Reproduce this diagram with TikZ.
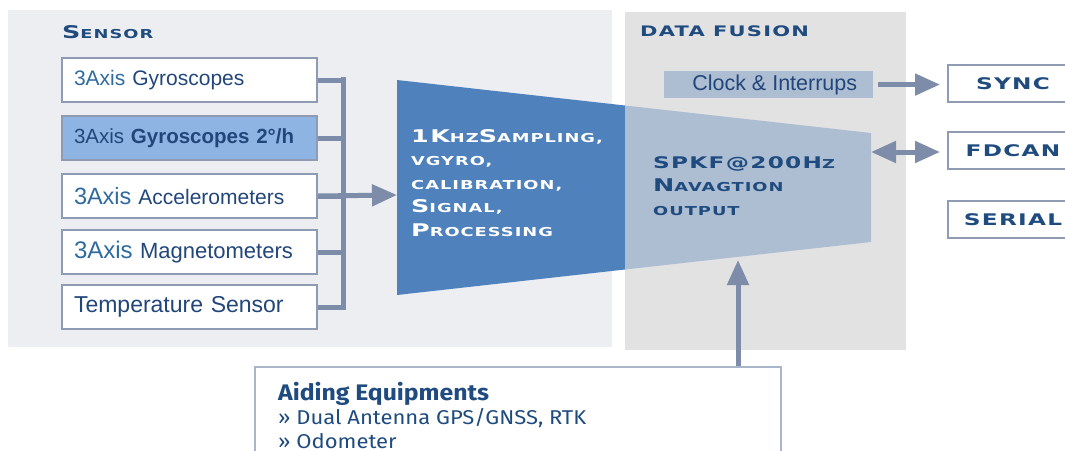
\documentclass[tikz,border=0pt]{standalone}
\usepackage{fontspec}
\setmainfont{Liberation Sans}
\newfontfamily\widefont[FakeStretch=1.45,LetterSpace=8]{DejaVu Sans}
\newfontfamily\aidfont[FakeStretch=1.1]{Fira Sans}
\usetikzlibrary{arrows.meta,positioning,calc}

\definecolor{sensorbg}{HTML}{EDEEF2}
\definecolor{fusionbg}{HTML}{E2E2E3}
\definecolor{boxline}{HTML}{8E9BB3}
\definecolor{flowgray}{HTML}{7D8CA8}
\definecolor{procblue}{HTML}{4F81BD}
\definecolor{navblue}{HTML}{ADBDD2}
\definecolor{gyrofill}{HTML}{8DB4E2}
\definecolor{titleblue}{HTML}{1F4B7F}
\definecolor{textblue}{HTML}{22467A}
\definecolor{axisblue}{HTML}{2F6BA0}
\definecolor{aidline}{HTML}{A9B5C9}

% fake small caps
\newcommand\capbig{\fontsize{17.5}{23.5}\selectfont}
\newcommand\capsmall{\fontsize{12.3}{23.5}\selectfont}
\newcommand\boxsize[1]{\fontsize{#1}{24}\selectfont}

\begin{document}
\begin{tikzpicture}[x=1pt,y=-1pt,
  sensorbox/.style={draw=boxline,line width=2pt,fill=white,minimum height=44pt,
    text width=231pt,inner xsep=12pt,align=left,anchor=north west,text=textblue},
  portbox/.style={draw=boxline,line width=2pt,fill=white,minimum height=37pt,
    minimum width=130pt,anchor=north west,text=titleblue,
    font=\widefont\bfseries\fontsize{16}{18}\selectfont},
  title/.style={anchor=west,inner sep=0pt,text=titleblue,font=\widefont\bfseries},
  flow/.style={draw=flowgray,line width=5pt,-{Triangle[length=25pt,width=21pt]}},
  bus/.style={draw=flowgray,line width=5pt}]

  \useasboundingbox (0,0) rectangle (1065,450);
  \clip (0,0) rectangle (1065,450);

  % panels
  \fill[sensorbg] (8,10) rectangle (612,347);
  \fill[fusionbg] (625,12) rectangle (906,350);
  \node[title] (sensortitle) at (62,32) {\capbig S\capsmall ENSOR};
  \node[title] (fusiontitle) at (640,31) {\fontsize{14.5}{16}\selectfont DATA FUSION};

  % sensor boxes
  \node[sensorbox,font=\boxsize{21}] (gyro) at (61,57) {{\color{axisblue}3Axis} Gyroscopes};
  \node[sensorbox,font=\boxsize{20.5},fill=gyrofill] (gyrofine) at (61,115) {3Axis \textbf{Gyroscopes 2°/h}};
  \node[sensorbox,font=\boxsize{21}] (accel) at (61,173) {{\color{axisblue}\boxsize{23.5}3Axis} Accelerometers};
  \node[sensorbox,font=\boxsize{22}] (magneto) at (61,229) {{\color{axisblue}\boxsize{24}3Axis} Magnetometers};
  \node[sensorbox,font=\boxsize{23}] (temp) at (61,284) {Temperature Sensor};

  % bus to processing
  \coordinate (bustop) at (343,79);
  \coordinate (busbot) at (343,307);
  \foreach \s in {gyro,gyrofine,accel,magneto,temp}
    \draw[bus] (\s.east) -- (\s.east -| bustop);
  \draw[bus,line cap=rect] (bustop) -- (busbot);

  % processing / navigation block
  \coordinate (ptl) at (397,80);
  \coordinate (pbl) at (397,295);
  \coordinate (mtl) at (625,105.5);
  \coordinate (mbl) at (625,269.5);
  \coordinate (ntr) at (871,133);
  \coordinate (nbr) at (871,242);
  \fill[procblue] (ptl) -- (mtl) -- (mbl) -- (pbl) -- cycle;
  \fill[navblue] (mtl) -- (ntr) -- (nbr) -- (mbl) -- cycle;
  \coordinate (procin) at (397,195);
  \draw[flow] (accel.east) -- (procin);

  \node[anchor=north west,inner sep=0pt,align=left,text=white,font=\widefont\bfseries\capsmall] (proc) at (411,129)
    {\capbig 1K\capsmall HZ\capbig S\capsmall AMPLING,\\
     VGYRO,\\
     CALIBRATION,\\
     \capbig S\capsmall IGNAL,\\
     \capbig P\capsmall ROCESSING};
  \node[anchor=north west,inner sep=0pt,align=left,text=titleblue,font=\widefont\bfseries\capsmall] (nav) at (653,156)
    {\fontsize{16}{23.5}\selectfont SPKF@200H\capsmall Z\\
     \capbig N\capsmall AVAGTION\\
     OUTPUT};

  % clock and ports
  \node[fill=navblue,minimum width=209pt,minimum height=26pt,anchor=north west,
    text=textblue,font=\boxsize{21.5}] (clock) at (664,71) {\hspace{12pt}Clock \& Interrups};
  \node[portbox] (sync) at (947,64) {SYNC};
  \node[portbox] (fdcan) at (947,131) {FDCAN};
  \node[portbox] (serial) at (947,200) {SERIAL};
  \coordinate (navout) at (871,152);
  \draw[flow] ([xshift=5pt]clock.east) -- ([xshift=-7pt]clock.east -| sync.west);
  \draw[flow,{Triangle[length=25pt,width=21pt]}-{Triangle[length=25pt,width=21pt]}]
    (navout) -- ([xshift=-7pt]navout -| fdcan.west);

  % aiding equipments
  \node[draw=aidline,line width=2pt,fill=white,anchor=north west,minimum width=526pt,
    minimum height=120pt] (aiding) at (254,366) {};
  \node[anchor=west,inner sep=0pt,text=titleblue,align=left,font=\aidfont\fontsize{20}{24}\selectfont]
    (aidtext) at (278,415) {\textbf{\fontsize{22.5}{24}\selectfont Aiding Equipments}\\
    » Dual Antenna GPS/GNSS, RTK\\
    » Odometer};
  \coordinate (navin) at (738,260);
  \draw[flow] (aiding.north -| navin) -- (navin);
\end{tikzpicture}
\end{document}
